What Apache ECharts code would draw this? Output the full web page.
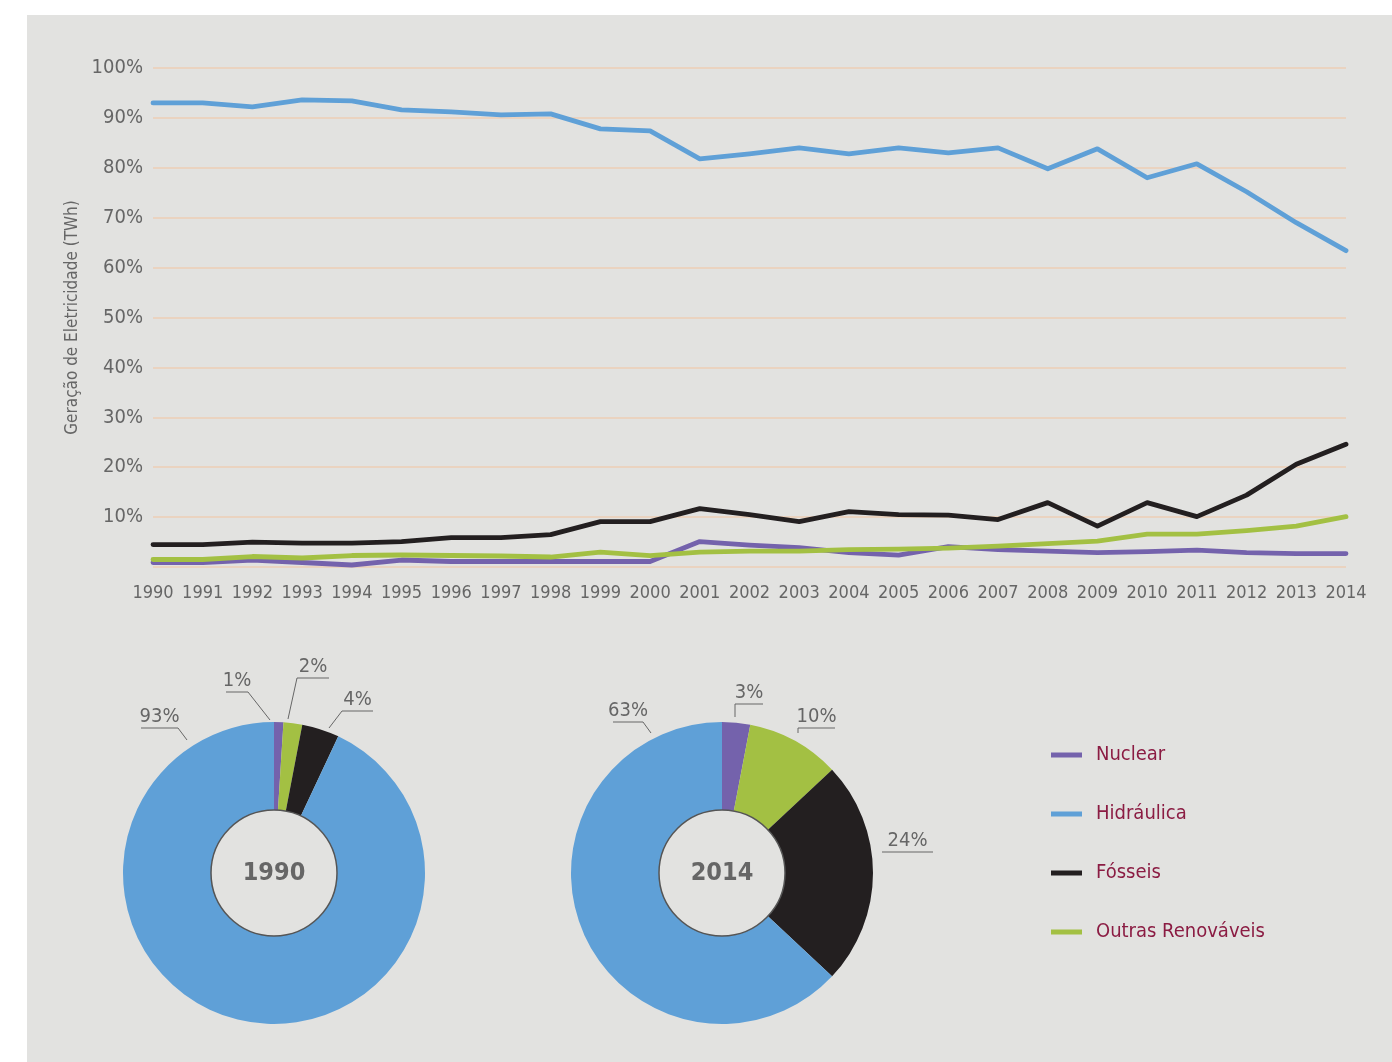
<!DOCTYPE html>
<html>
<head>
<meta charset="utf-8">
<script src="https://cdn.jsdelivr.net/npm/echarts@6/dist/echarts.min.js"></script>
<style>
  html, body { margin: 0; padding: 0; background: #ffffff; }
  #bg { position: absolute; left: 27px; top: 15px; width: 1365px; height: 1047px; background: #e2e2e0; }
  #main { position: absolute; left: 0; top: 0; width: 1392px; height: 1062px; }
</style>
</head>
<body>
<div id="bg"></div>
<div id="main"></div>
<script>
// ---------- DATA ----------
const years = ['1990','1991','1992','1993','1994','1995','1996','1997','1998','1999','2000','2001','2002','2003','2004','2005','2006','2007','2008','2009','2010','2011','2012','2013','2014'];
const nuclear    = [0.9,0.9,1.4,0.9,0.4,1.4,1.1,1.1,1.1,1.1,1.1,5.1,4.4,3.9,2.9,2.4,4.1,3.5,3.2,2.9,3.1,3.4,2.9,2.7,2.7];
const hidraulica = [93.0,93.0,92.2,93.6,93.4,91.6,91.2,90.6,90.8,87.8,87.4,81.8,82.8,84.0,82.8,84.0,83.0,84.0,79.8,83.8,78.0,80.8,75.2,69.0,63.4];
const fosseis    = [4.5,4.5,5.0,4.8,4.8,5.1,5.9,5.9,6.5,9.1,9.1,11.7,10.5,9.1,11.1,10.5,10.4,9.5,12.9,8.2,12.9,10.1,14.4,20.6,24.6];
const outras     = [1.5,1.5,2.1,1.8,2.3,2.4,2.3,2.2,2.0,3.0,2.3,3.0,3.2,3.2,3.5,3.6,3.8,4.2,4.7,5.2,6.6,6.6,7.3,8.2,10.1];
const seriesNames = ['Nuclear','Hidráulica','Fósseis','Outras Renováveis'];
const pieNames = ['Nuclear','Outras Renováveis','Fósseis','Hidráulica'];
const pie1990 = [1, 2, 4, 93];
const pie2014 = [3, 10, 24, 63];
const pieYears = ['1990', '2014'];
const yAxisName = 'Geração de Eletricidade (TWh)';

// ---------- STYLE ----------
const FONT = "'Liberation Sans Narrow', 'DejaVu Sans Condensed', sans-serif";
const colors = {
  'Nuclear': '#7462ac',
  'Hidráulica': '#5fa0d7',
  'Fósseis': '#231f20',
  'Outras Renováveis': '#a3c043'
};
const BG = '#e2e2e0';
const TXT = '#666666';
const R_OUT = 151, R_IN = 63;
const centers = [[274, 873], [722, 873]];
// leader line offsets from pie center (anchor, elbow, end) in data order of pieNames
const leaders = [
  [ [[-4,-153],[-26,-181],[-48,-181]],
    [[14,-154],[23,-195],[55,-195]],
    [[55,-145],[68,-162],[99,-162]],
    [[-87,-133],[-96,-145],[-133,-145]] ],
  [ [[13,-156],[13,-169],[41,-169]],
    [[76,-140],[76,-145],[113,-145]],
    [[160,-21],[160,-21],[211,-21]],
    [[-71,-140],[-79,-151],[-109,-151]] ]
];

const chart = echarts.init(document.getElementById('main'), null, { renderer: 'canvas' });

function lineSeries(name, data) {
  return {
    name: name, type: 'line', data: data, symbol: 'none', smooth: false,
    lineStyle: { width: 4.8, color: colors[name], cap: 'round', join: 'round' },
    itemStyle: { color: colors[name] },
    emphasis: { disabled: true }
  };
}

function pieSeries(idx, values) {
  const c = centers[idx];
  const lead = leaders[idx];
  return {
    type: 'pie',
    center: c,
    radius: [R_IN, R_OUT],
    startAngle: 90,
    clockwise: true,
    avoidLabelOverlap: false,
    silent: true,
    data: values.map((v, i) => ({
      name: pieNames[i], value: v,
      itemStyle: { color: colors[pieNames[i]], borderWidth: 0 }
    })),
    label: {
      show: true, position: 'outside', formatter: '{c}%',
      color: TXT, fontFamily: FONT, fontSize: 20
    },
    labelLine: { show: true, length: 10, length2: 10, lineStyle: { color: TXT, width: 1 } },
    labelLayout: function (params) {
      const L = lead[params.dataIndex];
      const pts = L.map(p => [c[0] + p[0], c[1] + p[1]]);
      return {
        x: (pts[1][0] + pts[2][0]) / 2,
        y: pts[2][1] - 1,
        align: 'center',
        verticalAlign: 'bottom',
        labelLinePoints: pts
      };
    }
  };
}

function holeSeries(idx) {
  return {
    type: 'pie',
    center: centers[idx],
    radius: [0, R_IN],
    silent: true,
    data: [{ name: '', value: 1, itemStyle: { color: BG, borderColor: '#555555', borderWidth: 1.5 } }],
    label: {
      show: true, position: 'center', formatter: pieYears[idx],
      color: TXT, fontFamily: FONT, fontSize: 25, fontWeight: 'bold'
    },
    labelLine: { show: false },
    emphasis: { disabled: true }
  };
}

const option = {
  backgroundColor: 'transparent',
  animation: false,
  textStyle: { fontFamily: FONT },
  grid: { left: 153, right: 46, top: 68, bottom: 495, containLabel: false },
  xAxis: {
    type: 'category', data: years, boundaryGap: false,
    axisLine: { show: false }, axisTick: { show: false },
    axisLabel: { interval: 0, color: TXT, fontSize: 18, fontFamily: FONT, margin: 17 },
    splitLine: { show: false }
  },
  yAxis: {
    type: 'value', min: 0, max: 100, interval: 10,
    name: yAxisName, nameLocation: 'middle', nameGap: 61, nameRotate: 90,
    nameTextStyle: { color: TXT, fontSize: 17, fontFamily: FONT },
    axisLine: { show: false }, axisTick: { show: false },
    axisLabel: { color: TXT, fontSize: 20, fontFamily: FONT, margin: 10,
      formatter: v => (v === 0 ? '' : v + '%') },
    splitLine: { show: true, lineStyle: { color: '#ead3c0', width: 2 } }
  },
  legend: {
    data: seriesNames,
    orient: 'vertical',
    left: 1051, top: 745, padding: 0,
    itemWidth: 31, itemHeight: 5, itemGap: 39,
    icon: 'rect',
    selectedMode: false,
    textStyle: { color: '#8b1c43', fontSize: 20, fontFamily: FONT, padding: [0, 0, 0, 9] }
  },
  series: [
    lineSeries('Nuclear', nuclear),
    lineSeries('Hidráulica', hidraulica),
    lineSeries('Fósseis', fosseis),
    lineSeries('Outras Renováveis', outras),
    pieSeries(0, pie1990),
    pieSeries(1, pie2014),
    holeSeries(0),
    holeSeries(1)
  ]
};
chart.setOption(option);
</script>
</body>
</html>
